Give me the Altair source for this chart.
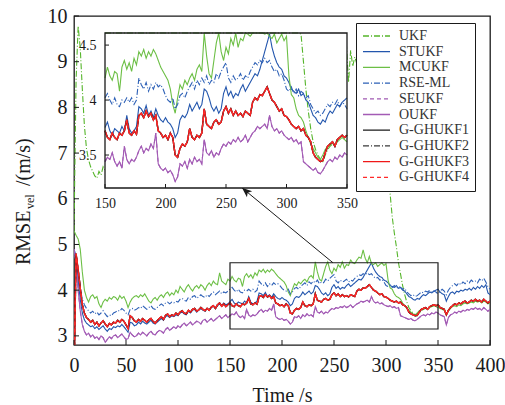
import altair as alt
import pandas as pd

# Time grid (s)
t = list(range(0, 401, 2))

ukf = [
    5.30, 8.60, 9.78, 9.30, 8.40, 7.60, 7.10, 6.85, 6.70, 6.60,
    6.50, 6.45, 6.60, 6.52, 6.70, 6.62, 6.80, 6.95, 7.05, 7.20,
    7.30, 7.45, 7.60, 7.55, 7.70, 7.80, 7.75, 7.90, 8.00, 7.95,
    8.05, 8.10, 8.00, 8.15, 8.20, 8.10, 8.25, 8.30, 8.20, 8.35,
    8.40, 8.30, 8.45, 8.50, 8.40, 8.55, 8.60, 8.50, 8.65, 8.70,
    8.60, 8.75, 8.80, 8.70, 8.85, 8.90, 8.80, 8.95, 9.00, 8.90,
    9.00, 9.05, 8.95, 9.10, 9.00, 9.15, 9.05, 9.10, 9.00, 9.20,
    9.10, 9.00, 9.15, 9.05, 9.20, 9.10, 9.00, 9.15, 9.05, 9.10,
    9.00, 9.10, 9.20, 9.05, 9.15, 9.00, 9.10, 9.20, 9.05, 9.15,
    9.10, 9.00, 9.15, 9.25, 9.10, 9.20, 9.05, 9.15, 9.10, 9.00,
    9.10, 9.20, 9.05, 9.15, 9.00, 9.10, 9.20, 9.05, 9.15, 9.10,
    9.00, 9.15, 9.05, 9.20, 9.10, 9.00, 9.15, 9.05, 9.20, 9.10,
    9.05, 9.15, 9.00, 9.10, 9.20, 9.05, 9.15, 9.00, 9.10, 9.05,
    9.30, 9.35, 8.55, 9.25, 8.90, 9.10, 8.95, 8.80, 8.70, 8.60,
    8.50, 8.40, 8.30, 8.20, 8.00, 7.90, 7.70, 7.50, 7.30, 7.10,
    6.90, 6.50, 6.10, 5.60, 5.25, 4.95, 4.60, 4.35, 4.10, 3.90,
    3.74, 3.62, 3.55, 3.50, 3.46, 3.44, 3.50, 3.55, 3.58, 3.60,
    3.60, 3.64, 3.66, 3.68, 3.66, 3.68, 3.64, 3.60, 3.58, 3.48,
    3.56, 3.62, 3.66, 3.68, 3.68, 3.72, 3.70, 3.72, 3.74, 3.72,
    3.74, 3.76, 3.76, 3.78, 3.76, 3.78, 3.74, 3.78, 3.76, 3.72,
    3.74,
]

stukf = [
    4.85, 4.70, 4.20, 3.80, 3.50, 3.35, 3.28, 3.24, 3.20, 3.22,
    3.16, 3.20, 3.14, 3.18, 3.22, 3.15, 3.10, 3.16, 3.14, 3.20,
    3.18, 3.22, 3.20, 3.25, 3.20, 3.14, 3.08, 3.30, 3.28, 3.22,
    3.24, 3.30, 3.26, 3.32, 3.28, 3.26, 3.30, 3.34, 3.28, 3.26,
    3.30, 3.34, 3.38, 3.34, 3.42, 3.44, 3.40, 3.44, 3.42, 3.46,
    3.44, 3.50, 3.52, 3.48, 3.46, 3.54, 3.50, 3.56, 3.58, 3.52,
    3.56, 3.60, 3.56, 3.54, 3.60, 3.56, 3.62, 3.65, 3.60, 3.66,
    3.70, 3.66, 3.72, 3.68, 3.70, 3.75, 3.80, 3.72, 3.68, 3.74,
    3.72, 3.70, 3.76, 3.72, 3.86, 3.74, 3.70, 3.72, 3.76, 3.94,
    3.92, 3.88, 3.95, 3.86, 3.90, 3.84, 3.92, 3.86, 3.82, 3.80,
    3.84, 3.80, 3.78, 3.74, 3.66, 3.70, 3.82, 3.86, 3.84, 3.88,
    3.96, 3.90, 3.94, 3.98, 3.92, 3.96, 4.10, 4.08, 4.02, 3.94,
    3.90, 3.94, 3.88, 3.92, 4.06, 4.12, 4.04, 4.08, 4.02, 4.06,
    4.04, 4.10, 4.14, 4.08, 4.12, 4.16, 4.20, 4.24, 4.22, 4.28,
    4.36, 4.44, 4.52, 4.60, 4.48, 4.40, 4.34, 4.30, 4.28, 4.22,
    4.20, 4.16, 4.10, 4.08, 4.06, 4.10, 4.04, 4.06, 4.00, 3.98,
    3.92, 3.86, 3.84, 3.80, 3.78, 3.82, 3.80, 3.86, 3.90, 3.88,
    3.92, 3.96, 3.94, 3.98, 4.00, 4.02, 3.96, 3.92, 3.90, 3.76,
    3.86, 3.94, 3.96, 3.92, 3.98, 3.96, 4.00, 3.98, 4.02, 4.00,
    4.04, 4.00, 4.06, 4.02, 4.08, 4.04, 4.10, 4.06, 4.12, 3.94,
    3.90,
]

mcukf = [
    5.30, 5.20, 5.12, 4.90, 4.40, 4.00, 3.84, 3.74, 3.86, 3.90,
    3.82, 3.86, 3.70, 3.62, 3.74, 3.80, 3.76, 3.84, 3.80, 3.86,
    3.84, 3.78, 3.88, 3.82, 3.86, 3.76, 3.62, 3.74, 3.82, 3.86,
    3.88, 3.84, 3.90, 3.86, 3.92, 3.84, 3.76, 3.72, 3.80, 3.84,
    3.78, 3.86, 3.90, 3.84, 3.92, 3.96, 3.88, 3.94, 3.90, 4.00,
    3.94, 4.08, 4.02, 3.96, 4.06, 4.12, 4.04, 3.98, 4.06, 4.10,
    4.04, 4.12, 4.08, 4.00, 4.10, 4.16, 4.10, 4.20, 4.14, 4.12,
    4.38, 4.20, 4.16, 4.12, 4.24, 4.20, 4.30, 4.22, 4.18, 4.26,
    4.24, 4.08, 4.30, 4.36, 4.28, 4.34, 4.26, 4.38, 4.32, 4.44,
    4.40, 4.46, 4.38, 4.44, 4.40, 4.46, 4.42, 4.36, 4.30, 4.26,
    4.22, 4.18, 4.10, 3.96, 3.88, 4.02, 4.14, 4.10, 4.18, 4.14,
    4.20, 4.24, 4.18, 4.28, 4.32, 4.26, 4.62, 4.40, 4.24, 4.20,
    4.36, 4.52, 4.62, 4.44, 4.36, 4.48, 4.42, 4.56, 4.50, 4.62,
    4.48, 4.56, 4.54, 4.66, 4.60, 4.58, 4.66, 4.72, 4.70, 4.88,
    4.70, 4.60, 4.74, 4.58, 4.56, 4.60, 4.52, 4.56, 4.60, 4.54,
    4.58, 4.22, 4.05, 4.02, 3.92, 3.86, 3.84, 3.80, 3.72, 3.66,
    3.60, 3.56, 3.52, 3.48, 3.46, 3.50, 3.55, 3.58, 3.60, 3.62,
    3.58, 3.62, 3.64, 3.66, 3.64, 3.62, 3.60, 3.58, 3.56, 3.48,
    3.54, 3.60, 3.64, 3.66, 3.64, 3.68, 3.66, 3.70, 3.72, 3.70,
    3.72, 3.74, 3.72, 3.76, 3.74, 3.76, 3.72, 3.76, 3.74, 3.70,
    3.72,
]

rse_ml = [
    4.90, 4.75, 4.40, 4.05, 3.80, 3.68, 3.60, 3.55, 3.50, 3.54,
    3.48, 3.52, 3.46, 3.50, 3.55, 3.48, 3.42, 3.46, 3.44, 3.50,
    3.52, 3.56, 3.54, 3.60, 3.56, 3.50, 3.46, 3.58, 3.60, 3.56,
    3.58, 3.62, 3.60, 3.66, 3.62, 3.58, 3.62, 3.66, 3.60, 3.58,
    3.62, 3.66, 3.70, 3.66, 3.72, 3.74, 3.70, 3.74, 3.72, 3.76,
    3.74, 3.80, 3.82, 3.78, 3.76, 3.84, 3.80, 3.86, 3.88, 3.82,
    3.86, 3.90, 3.86, 3.84, 3.90, 3.86, 3.92, 3.96, 3.90, 3.94,
    3.98, 3.92, 3.96, 3.94, 3.98, 4.02, 4.06, 4.00, 3.96, 4.02,
    3.96, 3.94, 4.00, 3.98, 4.02, 3.98, 4.02, 3.96, 4.00, 4.20,
    4.14, 4.10, 4.16, 4.08, 4.14, 4.10, 4.16, 4.12, 4.14, 4.10,
    4.04, 4.00, 3.98, 4.02, 3.92, 3.96, 4.04, 4.06, 4.02, 4.08,
    4.12, 4.16, 4.10, 4.18, 4.14, 4.20, 4.16, 4.22, 4.14, 4.18,
    4.16, 4.24, 4.20, 4.26, 4.30, 4.34, 4.20, 4.16, 4.22, 4.18,
    4.20, 4.24, 4.18, 4.22, 4.20, 4.26, 4.30, 4.34, 4.32, 4.36,
    4.34, 4.38, 4.34, 4.36, 4.30, 4.26, 4.28, 4.22, 4.24, 4.18,
    4.10, 4.08, 4.12, 4.06, 4.10, 4.04, 4.08, 4.06, 4.02, 4.04,
    3.96, 3.92, 3.88, 3.90, 3.86, 3.88, 3.92, 3.96, 3.94, 3.98,
    3.96, 4.00, 3.94, 3.98, 3.96, 3.92, 3.98, 4.02, 3.98, 3.90,
    4.00, 4.06, 4.10, 4.14, 4.10, 4.16, 4.12, 4.18, 4.14, 4.20,
    4.16, 4.22, 4.18, 4.20, 4.16, 4.24, 4.20, 4.26, 4.18, 4.08,
    4.02,
]

oukf = [
    4.90, 4.60, 4.00, 3.55, 3.25, 3.10, 3.02, 3.06, 2.98, 3.02,
    2.95, 2.98, 2.92, 3.00, 2.96, 2.86, 2.92, 2.98, 2.94, 3.00,
    3.02, 2.96, 3.00, 3.04, 2.98, 2.92, 2.94, 3.08, 3.02, 2.98,
    3.00, 3.06, 3.02, 3.08, 3.04, 3.00, 3.06, 3.10, 3.04, 3.02,
    3.08, 3.12, 3.10, 3.06, 3.14, 3.18, 3.12, 3.16, 3.20, 3.16,
    3.22, 3.18, 3.24, 3.28, 3.22, 3.26, 3.30, 3.24, 3.28, 3.32,
    3.30, 3.26, 3.34, 3.36, 3.30, 3.34, 3.38, 3.32, 3.36, 3.40,
    3.44, 3.38, 3.42, 3.46, 3.40, 3.44, 3.48, 3.46, 3.52, 3.44,
    3.40, 3.44, 3.38, 3.58, 3.46, 3.42, 3.46, 3.44, 3.48, 3.54,
    3.58, 3.52, 3.56, 3.54, 3.60, 3.56, 3.70, 3.42, 3.38, 3.36,
    3.38, 3.34, 3.36, 3.32, 3.26, 3.30, 3.42, 3.40, 3.44, 3.38,
    3.46, 3.42, 3.48, 3.44, 3.46, 3.42, 3.64, 3.52, 3.50, 3.54,
    3.48, 3.52, 3.50, 3.56, 3.60, 3.58, 3.62, 3.60, 3.64, 3.62,
    3.66, 3.62, 3.64, 3.68, 3.62, 3.66, 3.70, 3.72, 3.76, 3.74,
    3.76, 3.78, 3.74, 3.86, 3.76, 3.72, 3.74, 3.70, 3.72, 3.68,
    3.66, 3.64, 3.66, 3.62, 3.64, 3.60, 3.62, 3.44, 3.42, 3.40,
    3.38, 3.36, 3.38, 3.34, 3.33, 3.36, 3.40, 3.44, 3.46, 3.44,
    3.48, 3.46, 3.50, 3.48, 3.52, 3.50, 3.46, 3.44, 3.42, 3.24,
    3.40, 3.46, 3.48, 3.52, 3.50, 3.54, 3.52, 3.56, 3.54, 3.58,
    3.56, 3.60, 3.58, 3.62, 3.58, 3.60, 3.56, 3.62, 3.58, 3.54,
    3.58,
]

# SEUKF runs on top of OUKF over the whole horizon
seukf = oukf

gghukf = [
    2.00, 4.80, 4.45, 4.05, 3.68, 3.50, 3.40, 3.36, 3.30, 3.34,
    3.25, 3.30, 3.22, 3.28, 3.33, 3.26, 3.20, 3.27, 3.24, 3.30,
    3.28, 3.34, 3.30, 3.36, 3.32, 3.24, 3.16, 3.44, 3.40, 3.33,
    3.30, 3.36, 3.32, 3.38, 3.34, 3.30, 3.35, 3.38, 3.32, 3.28,
    3.33, 3.38, 3.42, 3.36, 3.45, 3.48, 3.42, 3.46, 3.44, 3.50,
    3.46, 3.52, 3.55, 3.50, 3.48, 3.56, 3.52, 3.58, 3.60, 3.54,
    3.57, 3.62, 3.58, 3.55, 3.60, 3.56, 3.63, 3.66, 3.60, 3.68,
    3.72, 3.65, 3.70, 3.64, 3.68, 3.72, 3.66, 3.64, 3.70, 3.66,
    3.64, 3.70, 3.68, 3.72, 3.82, 3.70, 3.68, 3.72, 3.69, 3.86,
    3.88, 3.84, 3.90, 3.85, 3.88, 3.82, 3.86, 3.72, 3.70, 3.66,
    3.68, 3.64, 3.70, 3.66, 3.50, 3.48, 3.56, 3.60, 3.58, 3.62,
    3.74, 3.66, 3.64, 3.68, 3.66, 3.70, 3.92, 3.78, 3.76, 3.74,
    3.80, 3.82, 3.78, 3.80, 3.90, 3.94, 3.88, 3.92, 3.86, 3.90,
    3.86, 3.88, 3.85, 3.90, 3.88, 3.86, 3.98, 4.02, 4.00, 4.05,
    4.04, 4.08, 4.12, 4.06, 4.00, 3.98, 3.94, 3.90, 3.92, 3.86,
    3.85, 3.82, 3.78, 3.76, 3.74, 3.76, 3.72, 3.74, 3.68, 3.66,
    3.62, 3.52, 3.48, 3.46, 3.44, 3.45, 3.52, 3.58, 3.60, 3.62,
    3.58, 3.64, 3.66, 3.68, 3.66, 3.68, 3.62, 3.60, 3.58, 3.46,
    3.56, 3.62, 3.66, 3.70, 3.68, 3.72, 3.70, 3.74, 3.76, 3.72,
    3.74, 3.78, 3.76, 3.80, 3.76, 3.78, 3.74, 3.80, 3.76, 3.72,
    3.76,
]

names = ["UKF", "STUKF", "MCUKF", "RSE-ML", "SEUKF", "OUKF",
         "G-GHUKF1", "G-GHUKF2", "G-GHUKF3", "G-GHUKF4"]
series = [ukf, stukf, mcukf, rse_ml, seukf, oukf, gghukf, gghukf, gghukf, gghukf]
colors = ["#55b52a", "#2356ad", "#6cbf45", "#2d60b6", "#a05ab2", "#a35bb5",
          "#1a1a1a", "#3a3a3a", "#f01818", "#ff2a2a"]
dashes = [[6, 2, 1, 2], [1, 0], [1, 0], [6, 2, 1, 2], [4, 3], [1, 0],
          [1, 0], [6, 2, 1, 2], [1, 0], [4, 3]]
widths = [1.1, 1.1, 1.1, 1.1, 1.1, 1.1, 1.4, 1.4, 1.3, 1.3]

xticks_main = [0, 50, 100, 150, 200, 250, 300, 350, 400]
yticks_main = [3, 4, 5, 6, 7, 8, 9, 10]
xticks_in = [150, 200, 250, 300, 350]
yticks_in = [3.5, 4, 4.5]

zoom_t = [150, 350]
zoom_v = [3.15, 4.6]
inset_t = [150, 350]
inset_v = [3.2, 4.61]
arrow_t = [249, 161.5]
arrow_v = [4.6, 6.24]

for s in series:
    assert len(s) == len(t)

FONT = "Liberation Serif"
INK = "#1a1a1a"
W, H = 416, 329

rows = []
for n, vals in zip(names, series):
    for ti, v in zip(t, vals):
        rows.append({"series": n, "t": ti, "v": v})
df = pd.DataFrame(rows)
df_in = df[(df["t"] >= inset_t[0]) & (df["t"] <= inset_t[1])]

xs = alt.Scale(domain=[0, 400], nice=False, zero=False)
ys = alt.Scale(domain=[2.8, 10], nice=False, zero=False)
xs_in = alt.Scale(domain=inset_t, range=[31, 273], nice=False, zero=False, clamp=True)
ys_in = alt.Scale(domain=inset_v, range=[172, 17], nice=False, zero=False, clamp=True)

ax_x = alt.Axis(values=xticks_main, ticks=False, domain=False, grid=False,
                labelFont=FONT, labelFontSize=20, labelColor=INK, labelPadding=10,
                labelFlush=False, labelOverlap=False,
                title="Time /s", titleFont=FONT, titleFontSize=20,
                titleFontWeight="normal", titleColor=INK, titlePadding=10)
ax_y = alt.Axis(values=yticks_main, ticks=False, domain=False, grid=False,
                labelFont=FONT, labelFontSize=20, labelColor=INK, labelPadding=7,
                labelOverlap=False, title=None)
ax_xi = alt.Axis(values=xticks_in, orient="bottom", offset=-157, ticks=False,
                 domain=False, grid=False, labelFont=FONT, labelFontSize=14,
                 labelColor=INK, labelPadding=8, labelFlush=False,
                 labelOverlap=False, title=None)
ax_yi = alt.Axis(values=yticks_in, orient="left", offset=-31, ticks=False,
                 domain=False, grid=False, labelFont=FONT, labelFontSize=14,
                 labelColor=INK, labelPadding=9, labelOverlap=False,
                 labelExpr="'' + datum.value", title=None)

legend = alt.Legend(title=None, orient="none", legendX=282, legendY=7,
                    direction="vertical", fillColor="white", strokeColor=INK,
                    padding=6, cornerRadius=0, labelFont=FONT, labelFontSize=14,
                    labelColor="#333333", symbolType="stroke", symbolSize=729,
                    symbolStrokeWidth=1.3, rowPadding=1.7, clipHeight=14,
                    labelOffset=8, values=names)
color_enc = alt.Color("series:N", scale=alt.Scale(domain=names, range=colors), legend=legend)
dash_enc = alt.StrokeDash("series:N", scale=alt.Scale(domain=names, range=dashes), legend=legend)


def curve(data, name, width, xscale, yscale, xaxis, yaxis, clip):
    return alt.Chart(data).transform_filter(
        alt.datum.series == name
    ).mark_line(strokeWidth=width, clip=clip).encode(
        x=alt.X("t:Q", scale=xscale, axis=xaxis),
        y=alt.Y("v:Q", scale=yscale, axis=yaxis),
        color=color_enc,
        strokeDash=dash_enc,
        order="t:Q",
    )


main_curves = [curve(df, n, w, xs, ys, ax_x, ax_y, True) for n, w in zip(names, widths)]

zoom_box = alt.Chart(pd.DataFrame({"t0": [zoom_t[0]], "t1": [zoom_t[1]],
                                   "v0": [zoom_v[0]], "v1": [zoom_v[1]]})).mark_rect(
    fillOpacity=0, stroke=INK, strokeWidth=1.2
).encode(x=alt.X("t0:Q", scale=xs, axis=ax_x), x2="t1:Q",
         y=alt.Y("v0:Q", scale=ys, axis=ax_y), y2="v1:Q")

arrow_df = pd.DataFrame({"t0": [arrow_t[0]], "t1": [arrow_t[1]],
                         "v0": [arrow_v[0]], "v1": [arrow_v[1]]})
arrow_line = alt.Chart(arrow_df).mark_rule(color=INK, strokeWidth=1).encode(
    x=alt.X("t0:Q", scale=xs, axis=ax_x), x2="t1:Q",
    y=alt.Y("v0:Q", scale=ys, axis=ax_y), y2="v1:Q")
arrow_head = alt.Chart(arrow_df).mark_point(
    shape="M0,0L-0.4,1L0,0.75L0.4,1Z", filled=True, color=INK, opacity=1,
    size=400, angle=310.6, strokeWidth=0
).encode(x=alt.X("t1:Q", scale=xs, axis=ax_x), y=alt.Y("v1:Q", scale=ys, axis=ax_y))

tick_x = alt.Chart(pd.DataFrame({"t": xticks_main})).mark_rule(color=INK, strokeWidth=1).encode(
    x=alt.X("t:Q", scale=xs, axis=ax_x), y=alt.value(H), y2=alt.value(H - 5))
tick_y = alt.Chart(pd.DataFrame({"v": yticks_main})).mark_rule(color=INK, strokeWidth=1).encode(
    y=alt.Y("v:Q", scale=ys, axis=ax_y), x=alt.value(0), x2=alt.value(5))


# y-axis title with a subscript, written as three rotated pieces
def ytitle(text, size, x, y):
    return alt.Chart(pd.DataFrame({"txt": [text]})).mark_text(
        angle=270, align="left", baseline="alphabetic", font=FONT,
        fontSize=size, color=INK
    ).encode(x=alt.value(x), y=alt.value(y), text="txt:N")


title_parts = [ytitle("RMSE", 20, -44, 249), ytitle("vel", 12, -40, 193),
               ytitle("/(m/s)", 20, -44, 170)]

main = alt.layer(*main_curves, zoom_box, tick_x, tick_y, arrow_line, arrow_head, *title_parts)

# inset: magnified view of 150-350 s
box_df = pd.DataFrame({"t0": [inset_t[0]], "t1": [inset_t[1]],
                       "v0": [inset_v[0]], "v1": [inset_v[1]]})
inset_bg = alt.Chart(box_df).mark_rect(fill="white").encode(
    x=alt.X("t0:Q", scale=xs_in, axis=ax_xi), x2="t1:Q",
    y=alt.Y("v0:Q", scale=ys_in, axis=ax_yi), y2="v1:Q")
inset_frame = alt.Chart(box_df).mark_rect(fillOpacity=0, stroke=INK, strokeWidth=1.3).encode(
    x=alt.X("t0:Q", scale=xs_in, axis=ax_xi), x2="t1:Q",
    y=alt.Y("v0:Q", scale=ys_in, axis=ax_yi), y2="v1:Q")
inset_curves = [curve(df_in, n, w, xs_in, ys_in, ax_xi, ax_yi, False)
                for n, w in zip(names, widths)]
inset_tick_x = alt.Chart(pd.DataFrame({"t": xticks_in})).mark_rule(color=INK, strokeWidth=1).encode(
    x=alt.X("t:Q", scale=xs_in, axis=ax_xi), y=alt.value(172), y2=alt.value(168))
inset_tick_y = alt.Chart(pd.DataFrame({"v": yticks_in})).mark_rule(color=INK, strokeWidth=1).encode(
    y=alt.Y("v:Q", scale=ys_in, axis=ax_yi), x=alt.value(31), x2=alt.value(35))

inset = alt.layer(inset_bg, *inset_curves, inset_frame, inset_tick_x, inset_tick_y)

chart = alt.layer(main, inset).resolve_scale(
    x="independent", y="independent"
).properties(
    width=W, height=H,
    padding={"left": 74, "top": 16, "right": 15, "bottom": 60},
    autosize="none", background="white",
).configure_view(
    stroke=INK, strokeWidth=1.3
).configure_axis(
    labelFont=FONT, titleFont=FONT, titleFontWeight="normal", labelColor=INK, titleColor=INK
).configure_legend(
    labelFont=FONT
).configure_text(
    font=FONT
)

chart.save("out.html", embed_options={"renderer": "svg", "actions": False})
